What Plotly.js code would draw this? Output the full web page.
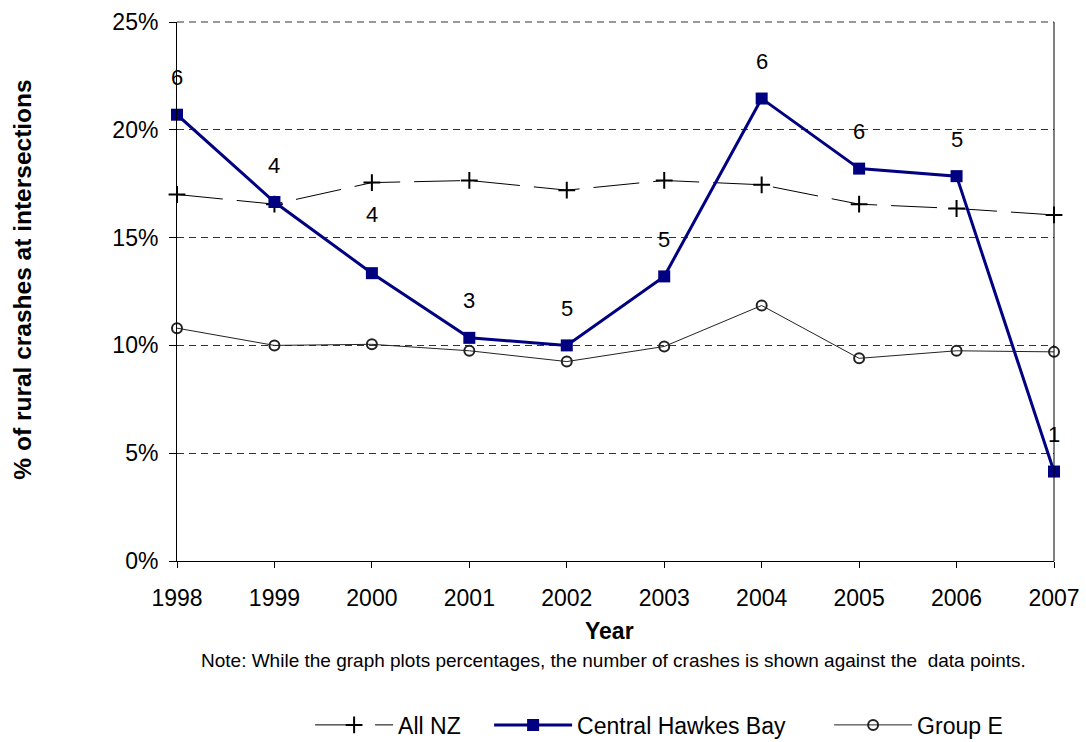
<!DOCTYPE html>
<html>
<head>
<meta charset="utf-8">
<script src="https://cdn.plot.ly/plotly-3.0.1.min.js"></script>
<style>html,body{margin:0;padding:0;background:#fff;}#chart{width:1086px;height:742px;}</style>
</head>
<body>
<div id="chart"></div>
<script>
const years = [1998, 1999, 2000, 2001, 2002, 2003, 2004, 2005, 2006, 2007];
const allNZ = [17.0, 16.55, 17.55, 17.65, 17.2, 17.65, 17.45, 16.55, 16.35, 16.05];
const centralHawkesBay = [20.7, 16.65, 13.35, 10.35, 10.0, 13.2, 21.45, 18.2, 17.85, 4.15];
const groupE = [10.8, 10.0, 10.05, 9.75, 9.25, 9.95, 11.85, 9.4, 9.75, 9.7];
const crashCounts = [6, 4, 4, 3, 5, 5, 6, 6, 5, 1];
const yTicks = [0, 5, 10, 15, 20, 25];
const yTickLabels = ['0%', '5%', '10%', '15%', '20%', '25%'];

const FONT = '"Liberation Sans", Arial, sans-serif';

const traces = [
  {
    x: years, y: allNZ, name: 'All NZ', type: 'scatter', mode: 'lines+markers',
    line: {color: '#000000', width: 1, dash: '46px,14px'},
    marker: {symbol: 'cross-thin-open', size: 12, line: {color: '#000000', width: 2}},
    cliponaxis: false, legendwidth: 86
  },
  {
    x: years, y: centralHawkesBay, name: 'Central Hawkes Bay', type: 'scatter', mode: 'lines+markers',
    line: {color: '#000080', width: 3},
    marker: {symbol: 'square', size: 12, color: '#000080'},
    cliponaxis: false, legendwidth: 247
  },
  {
    x: years, y: groupE, name: 'Group E', type: 'scatter', mode: 'lines+markers',
    line: {color: '#222222', width: 1},
    marker: {symbol: 'circle-open', size: 10, line: {color: '#444444', width: 2}},
    cliponaxis: false, legendwidth: 90
  }
];

const annotations = years.map((yr, i) => ({
  x: yr, y: centralHawkesBay[i], xref: 'x', yref: 'y',
  text: String(crashCounts[i]), showarrow: false,
  yshift: yr === 2000 ? 59 : 37,
  xanchor: 'center', yanchor: 'middle',
  font: {family: FONT, size: 22, color: '#000000'}
}));

annotations.push({
  xref: 'paper', yref: 'paper', x: -0.1756, y: 0.522,
  text: '<b>% of rural crashes at intersections</b>', textangle: -90, showarrow: false,
  xanchor: 'center', yanchor: 'middle',
  font: {family: FONT, size: 24.5, color: '#000000'}
});
annotations.push({
  xref: 'paper', yref: 'paper', x: 0.4926, y: -0.129,
  text: '<b>Year</b>', showarrow: false, xanchor: 'center', yanchor: 'middle',
  font: {family: FONT, size: 23, color: '#000000'}
});
annotations.push({
  xref: 'paper', yref: 'paper', x: 0.4977, y: -0.1855,
  text: 'Note: While the graph plots percentages, the number of crashes is shown against the  data points.',
  showarrow: false, xanchor: 'center', yanchor: 'middle',
  font: {family: FONT, size: 19, color: '#000000'}
});

const layout = {
  width: 1086, height: 742,
  margin: {l: 177, r: 32, t: 22, b: 181, pad: 0},
  paper_bgcolor: '#ffffff', plot_bgcolor: '#ffffff',
  font: {family: FONT, size: 23, color: '#000000'},
  showlegend: true,
  legend: {
    orientation: 'h', xref: 'paper', x: 0.552, xanchor: 'center',
    yref: 'container', y: 0.023, yanchor: 'middle',
    font: {family: FONT, size: 23, color: '#000000'},
    itemwidth: 78, traceorder: 'normal', bgcolor: 'rgba(0,0,0,0)'
  },
  xaxis: {
    range: [1998, 2007], tickmode: 'array', tickvals: years, ticktext: years.map(String),
    showline: true, linecolor: '#000000', linewidth: 1,
    ticks: 'outside', ticklen: 6, tickcolor: '#000000', tickwidth: 1,
    showgrid: false, zeroline: false, ticklabelstandoff: 10,
    tickfont: {family: FONT, size: 23, color: '#000000'}
  },
  yaxis: {
    range: [0, 25], tickmode: 'array', tickvals: yTicks, ticktext: yTickLabels,
    showline: true, linecolor: '#000000', linewidth: 1,
    ticks: 'outside', ticklen: 7, tickcolor: '#000000', tickwidth: 1,
    showgrid: true, gridcolor: '#333333', gridwidth: 1, griddash: '7px,5px',
    zeroline: false, ticklabelstandoff: 6,
    tickfont: {family: FONT, size: 23, color: '#000000'}
  },
  shapes: [
    {type: 'line', xref: 'paper', yref: 'paper', x0: 1, x1: 1, y0: 0, y1: 1,
     line: {color: '#000000', width: 1}},
    {type: 'line', xref: 'paper', yref: 'paper', x0: 0, x1: 1, y0: 1, y1: 1,
     line: {color: '#333333', width: 1, dash: '7px,5px'}}
  ],
  annotations: annotations
};

Plotly.newPlot('chart', traces, layout, {displayModeBar: false, staticPlot: true});
</script>
</body>
</html>
